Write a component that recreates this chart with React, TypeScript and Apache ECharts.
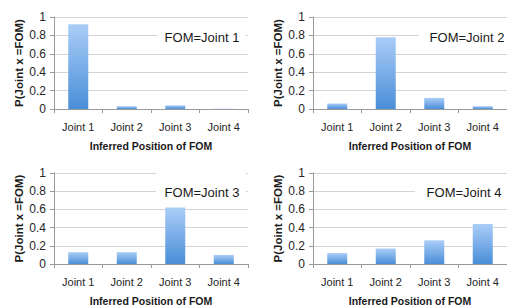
import React, { useEffect, useRef } from "react";
import * as echarts from "echarts";

const categories = ["Joint 1", "Joint 2", "Joint 3", "Joint 4"];
const panelLabels = ["FOM=Joint 1", "FOM=Joint 2", "FOM=Joint 3", "FOM=Joint 4"];
const fom1 = [0.92, 0.03, 0.04, 0.003];
const fom2 = [0.06, 0.78, 0.12, 0.03];
const fom3 = [0.13, 0.13, 0.62, 0.1];
const fom4 = [0.12, 0.17, 0.26, 0.44];
const yTicks = [0, 0.2, 0.4, 0.6, 0.8, 1];
const xTitle = "Inferred Position of FOM";
const yTitle = "P(Joint x =FOM)";

const seriesData = [fom1, fom2, fom3, fom4];

const grids = [
  { left: 54, top: 17, width: 194, height: 92 },
  { left: 313, top: 17, width: 194, height: 92 },
  { left: 54, top: 173, width: 194, height: 92 },
  { left: 313, top: 173, width: 194, height: 92 },
];

const labelBoxes = [
  { x: 158, y: 24, w: 88, h: 25, cx: 202, cy: 37 },
  { x: 419, y: 24, w: 88, h: 25, cx: 467, cy: 37 },
  { x: 156, y: 168, w: 90, h: 37, cx: 202, cy: 192 },
  { x: 415, y: 180, w: 92, h: 25, cx: 464, cy: 192 },
];

const FONT = "'Liberation Sans', Arial, sans-serif";

export default function App() {
  const ref = useRef<HTMLDivElement>(null);
  useEffect(() => {
    if (!ref.current) return;
    const chart = echarts.init(ref.current, null, { renderer: "svg" });
    const barColor = new echarts.graphic.LinearGradient(0, 0, 0, 1, [
      { offset: 0, color: "#aacdf7" },
      { offset: 1, color: "#4a8ed8" },
    ]);
    chart.setOption({
      animation: false,
      backgroundColor: "#fff",
      textStyle: { fontFamily: FONT },
      grid: grids.map((g) => ({ ...g, containLabel: false })),
      xAxis: grids.map((_, i) => ({
        type: "category",
        gridIndex: i,
        data: categories,
        name: xTitle,
        nameLocation: "middle",
        nameGap: 31,
        nameTextStyle: { fontFamily: FONT, fontSize: 10.5, fontWeight: "bold", color: "#1a1a1a" },
        axisLine: { lineStyle: { color: "#9a9a9a", width: 1 } },
        axisTick: { show: true, alignWithLabel: false, length: 4, lineStyle: { color: "#9a9a9a" } },
        axisLabel: { fontFamily: FONT, fontSize: 11, color: "#262626", margin: 12 },
        splitLine: { show: false },
      })),
      yAxis: grids.map((_, i) => ({
        type: "value",
        gridIndex: i,
        min: 0,
        max: 1,
        interval: 0.2,
        name: yTitle,
        nameLocation: "middle",
        nameGap: 26,
        nameTextStyle: { fontFamily: FONT, fontSize: 11.5, fontWeight: "bold", color: "#1a1a1a" },
        axisLine: { show: true, lineStyle: { color: "#9a9a9a", width: 1 } },
        axisTick: { show: true, length: 4, lineStyle: { color: "#9a9a9a" } },
        axisLabel: {
          fontFamily: FONT,
          fontSize: 12,
          color: "#262626",
          margin: 8,
          formatter: (v: number) => {
            const t = yTicks.find((k) => Math.abs(k - v) < 1e-9);
            return t === undefined ? "" : String(t);
          },
        },
        splitLine: { show: true, lineStyle: { color: "#d4d4d4", width: 1 } },
      })),
      series: seriesData.map((d, i) => ({
        type: "bar",
        xAxisIndex: i,
        yAxisIndex: i,
        data: d,
        barWidth: 20,
        itemStyle: { color: barColor },
      })),
      graphic: labelBoxes.flatMap((b, i) => [
        {
          type: "rect",
          shape: { x: b.x, y: b.y, width: b.w, height: b.h },
          style: { fill: "#fff" },
          z: 10,
        },
        {
          type: "text",
          x: b.cx,
          y: b.cy,
          z: 11,
          style: {
            text: panelLabels[i],
            fontFamily: FONT,
            fontSize: 13,
            fill: "#1a1a1a",
            align: "center",
            verticalAlign: "middle",
          },
        },
      ]),
    });
    return () => chart.dispose();
  }, []);
  return (
    <div
      ref={ref}
      style={{ position: "fixed", left: 0, top: 0, width: 507, height: 307 }}
    />
  );
}
